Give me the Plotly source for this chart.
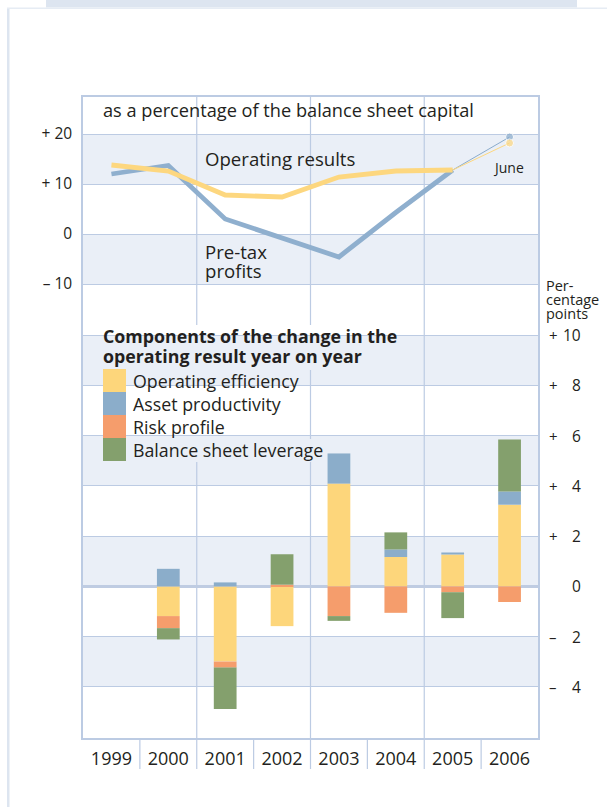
import plotly.graph_objects as go

# ---- data -------------------------------------------------------------
years = ["1999", "2000", "2001", "2002", "2003", "2004", "2005", "2006"]

# ratios as a percentage of balance sheet capital (2006 = June)
operating_results = [13.8, 12.6, 7.8, 7.4, 11.4, 12.6, 12.8, 18.2]
pretax_profits = [12.0, 13.7, 3.0, -0.8, -4.6, 4.3, 12.8, 19.4]

# components of the year-on-year change, percentage points (2006 = H1)
bar_years = ["2000", "2001", "2002", "2003", "2004", "2005", "2006"]
operating_efficiency = [-1.18, -2.99, -1.58, 4.09, 1.17, 1.27, 3.25]
asset_productivity = [0.70, 0.16, 0.0, 1.20, 0.30, 0.08, 0.53]
risk_profile = [-0.48, -0.24, 0.07, -1.18, -1.05, -0.23, -0.62]
balance_sheet_leverage = [-0.45, -1.65, 1.21, -0.19, 0.68, -1.03, 2.06]

left_ticks = [20, 10, 0, -10]
left_ticktext = ["+ 20", "+ 10", "0", "– 10"]
right_ticks = [10, 8, 6, 4, 2, 0, -2, -4]

component_names = ["Operating efficiency", "Asset productivity",
                   "Risk profile", "Balance sheet leverage"]

# ---- styling ----------------------------------------------------------
FONT = "Open Sans"
TXT = "#231f20"
GRID = "#bccbe3"
BAND = "#eaeff7"
YELLOW = "#fdd67b"
BLUE = "#8badca"
ORANGE = "#f59d6c"
GREEN = "#84a06d"
component_colors = [YELLOW, BLUE, ORANGE, GREEN]

W, H = 607, 807
L, R, T, B = 83, 69, 97, 69
PW, PH = W - L - R, H - T - B

Y2_RANGE = [-6.03, 19.47]
Y2_BANDS = [(8, 10), (4, 6), (0, 2), (-4, -2)]
Y1_BANDS = [(10, 20), (-10, 0)]


def px_x(p):
    return (p - L) / PW


def px_y(p):
    return (H - B - p) / PH


def y2_of_px(p):
    return Y2_RANGE[1] - (p - T) / PH * (Y2_RANGE[1] - Y2_RANGE[0])


fig = go.Figure()

# stacked component bars (right axis)
for name, vals, col in zip(component_names,
                           [operating_efficiency, asset_productivity,
                            risk_profile, balance_sheet_leverage],
                           component_colors):
    fig.add_trace(go.Bar(x=bar_years, y=vals, name=name, yaxis="y2",
                         marker=dict(color=col, line=dict(width=0)),
                         width=0.40, showlegend=False))

# ratio lines (left axis): full years thick, half-year extension thin
for vals, col, w in [(pretax_profits, "#8fafce", 4.8), (operating_results, "#fdd77f", 4.8)]:
    fig.add_trace(go.Scatter(x=years[:7], y=vals[:7], mode="lines",
                             line=dict(color=col, width=w), showlegend=False,
                             yaxis="y"))
for vals, col, ms in [(pretax_profits, "#8aabcb", 8), (operating_results, "#fdd77f", 8)]:
    fig.add_trace(go.Scatter(x=years[6:], y=vals[6:], mode="lines+markers",
                             line=dict(color=col, width=1),
                             marker=dict(size=[0, ms], color=col),
                             showlegend=False, yaxis="y"))

shapes = []
# shaded bands
for a, b in Y1_BANDS:
    shapes.append(dict(type="rect", xref="paper", yref="y", x0=0, x1=1,
                       y0=a, y1=b, fillcolor=BAND, line_width=0, layer="below"))
for a, b in Y2_BANDS:
    shapes.append(dict(type="rect", xref="paper", yref="y2", x0=0, x1=1,
                       y0=a, y1=b, fillcolor=BAND, line_width=0, layer="below"))
# vertical grid every second year
for xv in [1.5, 3.5, 5.5]:
    shapes.append(dict(type="line", xref="x", yref="paper", x0=xv, x1=xv,
                       y0=0, y1=1, line=dict(color=GRID, width=1.2), layer="below"))


def knockout(x0p, x1p, top_p, bot_p):
    """Hide gridlines behind the key text, keeping the band shading."""
    lo, hi = y2_of_px(bot_p), y2_of_px(top_p)
    edges = sorted({lo, hi} | {e for b in Y2_BANDS for e in b if lo < e < hi})
    for a, b in zip(edges[:-1], edges[1:]):
        mid = (a + b) / 2
        shaded = any(s <= mid <= e for s, e in Y2_BANDS)
        shapes.append(dict(type="rect", xref="paper", yref="y2",
                           x0=px_x(x0p), x1=px_x(x1p), y0=a, y1=b,
                           fillcolor=BAND if shaded else "white",
                           line_width=0, layer="between"))


knockout(100, 406, 325, 370)
knockout(127, 308, 370, 394)
knockout(127, 290, 394, 416)
knockout(127, 232, 416, 439)
knockout(127, 328, 439, 462)

# year separators under the plot
for xv in [0.5, 1.5, 2.5, 3.5, 4.5, 5.5, 6.5]:
    shapes.append(dict(type="line", xref="x", yref="paper", x0=xv, x1=xv,
                       y0=0, y1=-31 / PH, line=dict(color=GRID, width=1.2)))
# page decoration
shapes.append(dict(type="rect", xref="paper", yref="paper",
                   x0=px_x(46), x1=px_x(577), y0=px_y(7.5), y1=px_y(0),
                   fillcolor="#dde5f0", line_width=0))
shapes.append(dict(type="rect", xref="paper", yref="paper",
                   x0=px_x(7), x1=px_x(9.5), y0=px_y(807), y1=px_y(8),
                   fillcolor="#dde5f0", line_width=0))
shapes.append(dict(type="rect", xref="paper", yref="paper",
                   x0=px_x(7), x1=px_x(607), y0=px_y(9), y1=px_y(7.5),
                   fillcolor="#e6ecf4", line_width=0))
# legend swatches
sw_top = 369
for i, col in enumerate(component_colors):
    shapes.append(dict(type="rect", xref="paper", yref="paper",
                       x0=px_x(103), x1=px_x(126),
                       y0=px_y(sw_top + 23 * (i + 1)), y1=px_y(sw_top + 23 * i),
                       fillcolor=col, line_width=0))

ann = []


def text(x, y, s, size=17, xanchor="left", yanchor="middle", bold=False,
         xref="paper", yref="paper", align="left"):
    ann.append(dict(x=x, y=y, xref=xref, yref=yref, text=s, showarrow=False,
                    xanchor=xanchor, yanchor=yanchor, align=align,
                    font=dict(family=FONT, size=size, color=TXT,
                              weight="bold" if bold else "normal")))


text(px_x(101), px_y(110), "as a percentage of the balance sheet capital", 18.2)
text(px_x(203), px_y(159), "Operating results", 18.6)
text(px_x(203), px_y(252), "Pre-tax", 18.6)
text(px_x(203), px_y(270), "profits", 18.6)
text(px_x(508), px_y(167), "June", 14, xanchor="center")
text(3 + 6 - 0.03, -0.76, "H1", 14, xanchor="center", xref="x", yref="y2")
text(px_x(101), px_y(336), "Components of the change in the", 17.8, bold=True)
text(px_x(101), px_y(356), "operating result year on year", 17.8, bold=True)
for i, nm in enumerate(component_names):
    text(px_x(131), px_y(sw_top + 23 * i + 12), nm, 17.8)
for ln, yy in zip(["Per-", "centage", "points"], [285, 299, 313]):
    text(px_x(544), px_y(yy), ln, 14.5)

# right axis labels: sign column and number column
for v in right_ticks:
    if v != 0:
        text(px_x(547), v, "+" if v > 0 else "–", 15, yref="y2")
    text(px_x(583), v, str(abs(v)), 15.5, xanchor="right", yref="y2")

fig.update_layout(
    width=W, height=H,
    margin=dict(l=L, r=R, t=T, b=B),
    paper_bgcolor="white", plot_bgcolor="white",
    barmode="relative",
    font=dict(family=FONT, color=TXT),
    shapes=shapes, annotations=ann,
    xaxis=dict(type="category", categoryorder="array", categoryarray=years,
               range=[-0.5, 7.5], showgrid=False, zeroline=False,
               showline=True, mirror=True, linecolor=GRID, linewidth=1.5,
               ticks="", tickfont=dict(size=18, color=TXT),
               ticklabelstandoff=4),
    yaxis=dict(range=[-100.8, 27.4], tickvals=left_ticks, ticktext=left_ticktext,
               showgrid=True, gridcolor=GRID, gridwidth=1.2, zeroline=False,
               showline=True, mirror=True, linecolor=GRID, linewidth=1.5,
               ticks="", tickfont=dict(size=15.5, color=TXT),
               ticklabelstandoff=6),
    yaxis2=dict(range=Y2_RANGE, overlaying="y", side="right",
                tickvals=right_ticks, showticklabels=False,
                showgrid=True, gridcolor=GRID, gridwidth=1.2,
                zeroline=True, zerolinecolor="#bfcce2", zerolinewidth=2.5,
                showline=False, ticks=""),
)

fig.write_html("out.html")
